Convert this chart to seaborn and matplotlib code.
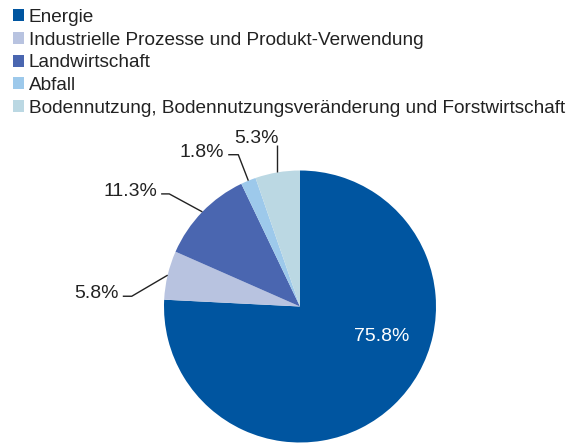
import numpy as np
import matplotlib.pyplot as plt
import seaborn as sns
from matplotlib.patches import Patch

# Anteile der Treibhausgasemissionen nach Sektor (in %)
categories = [
    "Energie",
    "Industrielle Prozesse und Produkt-Verwendung",
    "Landwirtschaft",
    "Abfall",
    "Bodennutzung, Bodennutzungsveränderung und Forstwirtschaft",
]
shares = [75.8, 5.8, 11.3, 1.8, 5.3]
pct_labels = ["75.8%", "5.8%", "11.3%", "1.8%", "5.3%"]
colors = ["#0055A0", "#B8C3E0", "#4A66B0", "#9DC9EB", "#BBD8E3"]

# layout: offset of the leader-line elbow from the wedge edge, and horizontal tail length
elbow_offsets = [None, (-0.264, -0.155), (-0.243, 0.132), (-0.074, 0.191), (0.0, 0.2)]
tails = [0, 0.066, 0.06, 0.074, 0.0]

sns.set_theme(style="white")
plt.rcParams["font.family"] = ["Liberation Sans", "DejaVu Sans"]

fig = plt.figure(figsize=(5.81, 4.44), dpi=100)
ax = fig.add_axes([0, 0, 1, 1])
wedges, _ = ax.pie(shares, colors=colors, startangle=90, counterclock=False,
                   radius=1, wedgeprops=dict(linewidth=0))
ax.set_xlim(-300 / 136, 281 / 136)
ax.set_ylim(-137.5 / 136, 306.5 / 136)
ax.set_aspect("equal")
ax.axis("off")

txt_color = "#222222"
lab_size = 14
for i, w in enumerate(wedges):
    mid = np.deg2rad((w.theta1 + w.theta2) / 2)
    if elbow_offsets[i] is None:
        ax.text(0.60, -0.22, pct_labels[i], color="white", fontsize=lab_size,
                ha="center", va="center")
        continue
    ex, ey = np.cos(mid), np.sin(mid)
    bx, by = ex + elbow_offsets[i][0], ey + elbow_offsets[i][1]
    tx = bx - tails[i]
    ax.plot([ex, bx, tx], [ey, by, by], color=txt_color, lw=1.0, solid_capstyle="butt")
    if tails[i] > 0:
        ax.text(tx - 0.03, by - 0.015, pct_labels[i], color=txt_color, fontsize=lab_size,
                ha="right", va="baseline")
    else:
        ax.text(tx + 0.01, by + 0.015, pct_labels[i], color=txt_color, fontsize=lab_size,
                ha="right", va="baseline")

handles = [Patch(facecolor=c, edgecolor="none") for c in colors]
fig.legend(handles, categories, loc="upper left",
           bbox_to_anchor=(13 / 581, 1 - 9 / 444), frameon=False, fontsize=13.7,
           borderpad=0, borderaxespad=0, handlelength=0.58, handleheight=0.58,
           handletextpad=0.26, labelspacing=0.3, labelcolor=txt_color)

fig.savefig("out.png", dpi=100)
